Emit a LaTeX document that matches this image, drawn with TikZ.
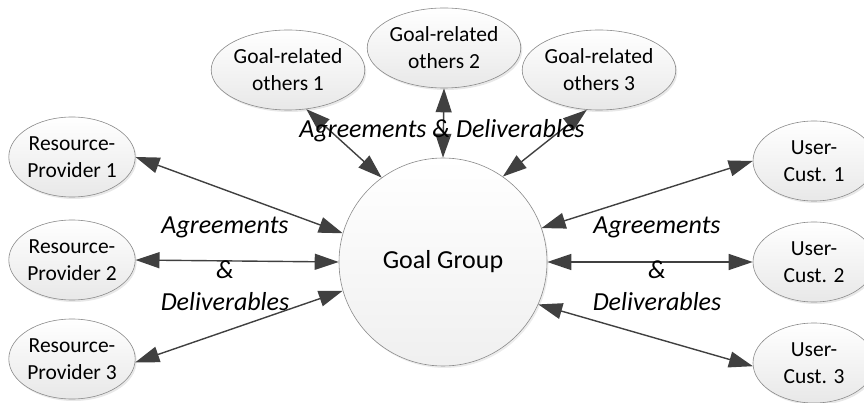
\documentclass[tikz,border=0pt]{standalone}
\usepackage{fontspec}
\setmainfont{Carlito}
\usetikzlibrary{shapes.geometric,arrows.meta,shadows}
\definecolor{linec}{HTML}{404040}
\definecolor{edgec}{HTML}{8A8A8A}
\tikzset{
  actor/.style={ellipse, draw=edgec, line width=0.6pt, top color=white, bottom color=black!9,
    minimum width=122pt, minimum height=80pt, inner sep=0pt, align=center,
    font=\fontsize{21.5}{27}\selectfont,
    drop shadow={opacity=0.18, shadow xshift=1.5pt, shadow yshift=-2pt}},
  goal/.style={circle, draw=edgec, line width=0.6pt, top color=white, bottom color=black!6,
    minimum size=208pt, inner sep=0pt, font=\fontsize{26}{30}\selectfont,
    drop shadow={opacity=0.15, shadow xshift=1.5pt, shadow yshift=-2pt}},
  link/.style={draw=linec, line width=1.4pt,
    {Triangle[length=24pt,width=16pt]}-{Triangle[length=24pt,width=16pt]}},
  lbl/.style={font=\fontsize{26}{36}\selectfont\itshape, align=center, inner sep=0pt}
}
\begin{document}
\begin{tikzpicture}[x=1pt,y=-1pt]
\useasboundingbox (0,0) rectangle (864,403);
\node[goal] (gg) at (443,262) {Goal Group};
\node[actor] (gr1) at (288,70) {Goal-related\\others 1};
\node[actor] (gr2) at (444,48) {Goal-related\\others 2};
\node[actor] (gr3) at (599,70) {Goal-related\\others 3};
\node[actor] (rp1) at (72,157) {Resource-\\Provider 1};
\node[actor] (rp2) at (72,260) {Resource-\\Provider 2};
\node[actor] (rp3) at (72,359) {Resource-\\Provider 3};
\node[actor] (uc1) at (814,161) {User-\\Cust. 1};
\node[actor] (uc2) at (814,262) {User-\\Cust. 2};
\node[actor] (uc3) at (814,363) {User-\\Cust. 3};
\draw[link] (gr1.-65) -- (gg.126);
\draw[link] (gr2.south) -- (gg.north);
\draw[link] (gr3.253) -- (gg.55);
\draw[link] (rp1.east) -- (gg.164);
\draw[link] (rp2.east) -- (gg.180);
\draw[link] (rp3.-3) -- (gg.196);
\draw[link] (uc1.west) -- (gg.19);
\draw[link] (uc2.west) -- (gg.0);
\draw[link] (uc3.183) -- (gg.336);
\node[lbl, anchor=base] (ltop) at (442,138) {Agreements \& Deliverables};
\node[lbl, anchor=base] (lleft) at (225,310) {Agreements\\[9pt]\&\\[-4pt]Deliverables};
\node[lbl, anchor=base] (lright) at (657,310) {Agreements\\[9pt]\&\\[-4pt]Deliverables};
\end{tikzpicture}
\end{document}
